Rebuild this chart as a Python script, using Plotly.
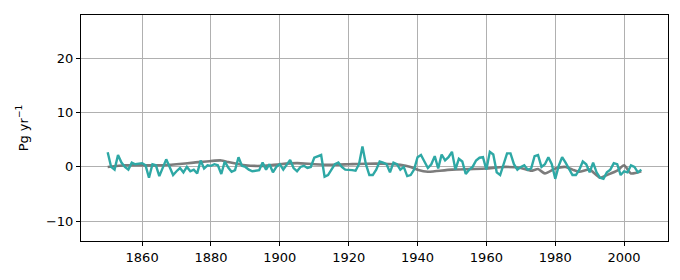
import plotly.graph_objects as go

years = list(range(1850, 2006))
annual = [
    2.7, 0.0, -0.5, 2.2, 0.8, 0.0, -0.5, 0.8, 0.5, 0.6,
    0.7, 0.3, -2.0, 0.5, 0.3, -1.7, 0.0, 1.4, 0.0, -1.5,
    -0.8, -0.2, -1.0, 0.0, -0.8, -0.5, -1.2, 1.2, -0.3, 0.3,
    0.2, 0.5, 0.3, -1.3, 1.0, -0.1, -0.9, -0.6, 1.8, 0.2,
    0.0, -0.5, -0.8, -0.7, -0.6, 0.8, -0.5, 0.5, -1.0, 0.0,
    0.5, -0.5, 0.3, 1.3, -0.2, -0.8, 0.0, 0.2, -0.2, 0.0,
    1.7, 2.0, 2.2, -1.8, -1.5, -0.5, 0.5, 0.8, 0.0, -0.5,
    -0.5, -0.6, -0.7, 0.5, 3.8, 0.5, -1.5, -1.5, -0.5, 1.0,
    0.8, 0.5, -1.0, 0.8, 0.5, -0.5, 0.0, -1.7, -1.5, -0.5,
    1.8, 2.2, 1.0, -0.2, 0.5, 2.0, -0.3, 2.3, 1.2, 1.8,
    2.8, -0.5, 1.5, 1.0, -1.3, -0.5, 0.0, 1.2, 1.7, 1.8,
    -0.5, 2.8, 2.3, -1.0, -1.5, 0.5, 2.5, 2.5, 0.5, -0.5,
    0.0, 0.3, -0.5, -0.3, 2.0, 2.2, 0.0, 0.5, 1.8, 0.5,
    -2.2, 0.2, 1.8, 0.8, -0.5, -1.5, -1.5, -0.5, 1.0, 0.5,
    -1.0, 0.8, -1.0, -2.0, -2.2, -1.0, -0.5, 0.7, 0.5, -1.5,
    -0.8, -1.0, 0.3, 0.0, -1.0, -0.5,
]

smooth_years = [1850, 1855, 1860, 1865, 1870, 1875, 1880, 1883, 1885, 1890,
                1895, 1900, 1905, 1910, 1915, 1920, 1925, 1930, 1935, 1938,
                1940, 1943, 1945, 1950, 1955, 1960, 1965, 1970, 1973, 1975,
                1977, 1980, 1983, 1985, 1987, 1990, 1993, 1995, 1998, 2000,
                2002, 2005]
smooth = [0.0, 0.3, 0.3, 0.3, 0.5, 0.8, 1.1, 1.2, 0.9, 0.3,
          0.2, 0.5, 0.7, 0.5, 0.4, 0.5, 0.6, 0.6, 0.4, 0.0,
          -0.5, -0.9, -0.8, -0.5, -0.4, -0.3, 0.0, -0.2, -0.7, -0.4,
          -1.2, -0.3, 0.0, -0.5, -0.9, -0.5, -2.0, -1.5, -0.7, 0.3,
          -1.2, -0.8]

x_ticks = [1860, 1880, 1900, 1920, 1940, 1960, 1980, 2000]
y_ticks = [-10, 0, 10, 20]
y_tick_labels = ["−10", "0", "10", "20"]

fig = go.Figure()
fig.add_trace(go.Scatter(x=smooth_years, y=smooth, mode="lines",
                         line=dict(color="rgba(110,110,110,0.9)", width=2.6, shape="spline", smoothing=0.6),
                         showlegend=False))
fig.add_trace(go.Scatter(x=years, y=annual, mode="lines",
                         line=dict(color="#2ea8a5", width=2.4),
                         showlegend=False))

axis_common = dict(showline=True, linecolor="black", linewidth=1, mirror=True,
                   ticks="outside", ticklen=4, tickcolor="black",
                   showgrid=True, gridcolor="#b0b0b0", gridwidth=1, zeroline=False,
                   tickfont=dict(family="DejaVu Sans", size=13, color="black"))

fig.update_layout(
    width=680, height=280,
    margin=dict(l=81, r=12, t=15, b=39),
    plot_bgcolor="white", paper_bgcolor="white",
    xaxis=dict(range=[1842.25, 2012.75], tickvals=x_ticks, **axis_common),
    yaxis=dict(range=[-13.7, 28.1], tickvals=y_ticks, ticktext=y_tick_labels,
               title=dict(text="Pg yr<sup>−1</sup>", font=dict(family="DejaVu Sans", size=13, color="black"), standoff=14),
               **axis_common),
)

fig.write_html("out.html")
